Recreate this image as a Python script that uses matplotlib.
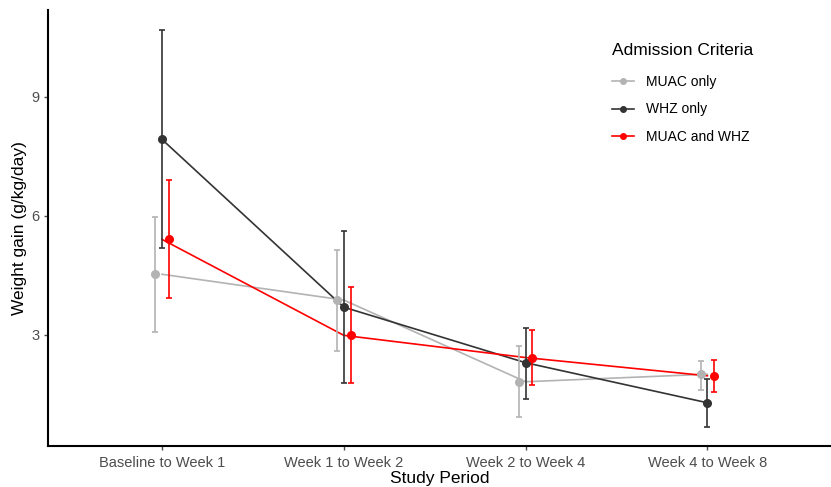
import matplotlib.pyplot as plt
import numpy as np

plt.rcParams['font.family'] = ['Liberation Sans', 'DejaVu Sans']

periods = ["Baseline to Week 1", "Week 1 to Week 2", "Week 2 to Week 4", "Week 4 to Week 8"]
groups = ["MUAC only", "WHZ only", "MUAC and WHZ"]
colors = ["#B3B3B3", "#333333", "#FF0000"]

# mean, lower, upper per group
muac_mean = [4.53, 3.88, 1.82, 2.01]
muac_lo = [3.08, 2.60, 0.93, 1.62]
muac_hi = [5.98, 5.13, 2.71, 2.35]

whz_mean = [7.93, 3.70, 2.30, 1.29]
whz_lo = [5.19, 1.78, 1.39, 0.68]
whz_hi = [10.69, 5.62, 3.18, 1.89]

both_mean = [5.41, 2.99, 2.43, 1.97]
both_lo = [3.93, 1.78, 1.73, 1.57]
both_hi = [6.90, 4.22, 3.13, 2.36]

means = [muac_mean, whz_mean, both_mean]
lows = [muac_lo, whz_lo, both_lo]
highs = [muac_hi, whz_hi, both_hi]
dodge = [-0.037, 0.0, 0.037]

fig = plt.figure(figsize=(8.31, 4.87), dpi=100)
ax = fig.add_axes([0.0578, 0.0842, 0.9422, 0.895])

x = np.arange(1, len(periods) + 1)
for g, col, m, lo, hi, d in zip(groups, colors, means, lows, highs, dodge):
    m = np.array(m)
    lo = np.array(lo)
    hi = np.array(hi)
    # lines drawn at the category centre, points and bars dodged
    ax.plot(x, m, color=col, linewidth=1.2, zorder=2)
    ax.errorbar(x + d, m, yerr=[m - lo, hi - m], fmt="none", ecolor=col,
                elinewidth=1.2, capsize=2.4, capthick=1.2, zorder=3)
    ax.plot(x + d, m, "o", color=col, markersize=5.5, zorder=4)
    ax.plot([], [], "-o", color=col, linewidth=1.2, markersize=4, label=g)

ax.set_xlim(0.373, 4.68)
ax.set_ylim(0.2, 11.19)
ax.set_xticks(x)
ax.set_xticklabels(periods)
ax.set_yticks([3, 6, 9])
ax.tick_params(axis="both", colors="#4D4D4D", labelsize=10.5, length=3, width=1)
ax.tick_params(axis="x", pad=4.5)
ax.tick_params(axis="y", pad=3)
for lab in ax.get_xticklabels() + ax.get_yticklabels():
    lab.set_color("#4D4D4D")

for s in ["top", "right"]:
    ax.spines[s].set_visible(False)
for s in ["left", "bottom"]:
    ax.spines[s].set_linewidth(1.5)
    ax.spines[s].set_color("black")

ax.set_xlabel("Study Period", fontsize=12.5, labelpad=0.5)
ax.set_ylabel("Weight gain (g/kg/day)", fontsize=12.5, labelpad=3)

leg = ax.legend(title="Admission Criteria", loc="upper left",
                bbox_to_anchor=(0.721, 0.937), bbox_transform=fig.transFigure,
                frameon=False, fontsize=10, title_fontsize=12.5,
                handlelength=1.6, handletextpad=0.9, labelspacing=0.98)
leg._legend_box.align = "left"
leg._legend_box.sep = 12

fig.savefig("out.png", dpi=100)
